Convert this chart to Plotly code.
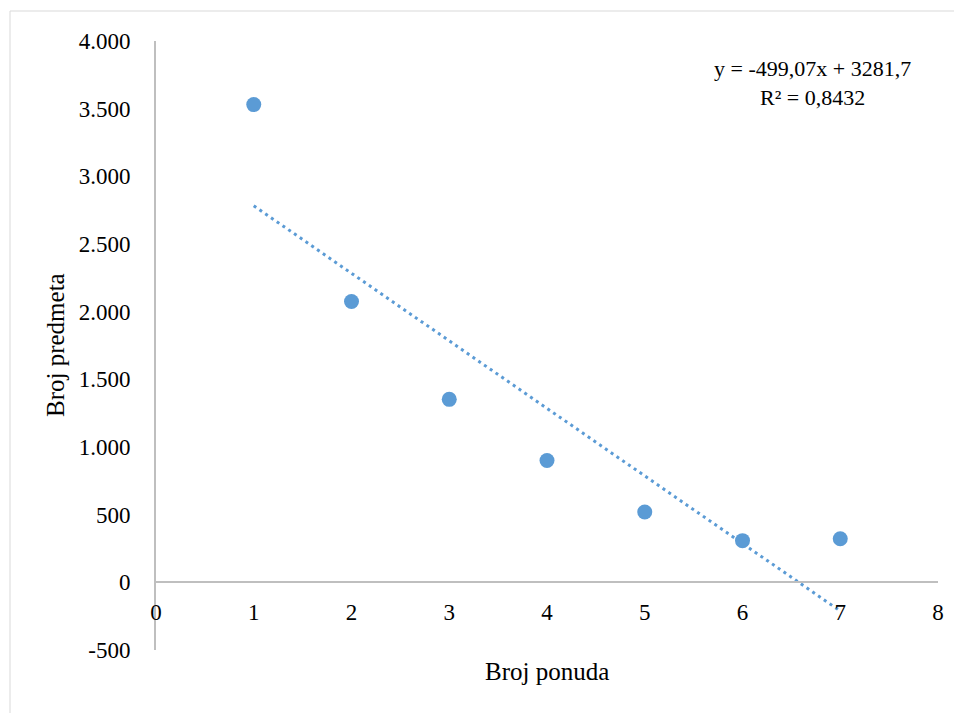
import numpy as np
import plotly.graph_objects as go

# Data
broj_ponuda = [1, 2, 3, 4, 5, 6, 7]
broj_predmeta = [3530, 2075, 1352, 900, 520, 308, 322]
trend_slope = -499.07
trend_intercept = 3281.7
r_squared = 0.8432
x_ticks = [0, 1, 2, 3, 4, 5, 6, 7, 8]
y_ticks = [-500, 0, 500, 1000, 1500, 2000, 2500, 3000, 3500, 4000]
y_tick_labels = ["-500", "0", "500", "1.000", "1.500", "2.000", "2.500", "3.000", "3.500", "4.000"]

color = "#5b9bd5"
font_family = "Liberation Serif"

trend_x = [min(broj_ponuda), max(broj_ponuda)]
trend_y = [trend_slope * v + trend_intercept for v in trend_x]

fig = go.Figure()
fig.add_trace(go.Scatter(
    x=trend_x, y=trend_y, mode="lines",
    line=dict(color=color, width=3, dash="3px,4px"),
    hoverinfo="skip", showlegend=False,
))
fig.add_trace(go.Scatter(
    x=broj_ponuda, y=broj_predmeta, mode="markers",
    marker=dict(color=color, size=15, line=dict(width=0)),
    showlegend=False,
))

# page body has an 8px margin; figure coordinates are offset by it
OFF = 8
W, H = 962 - OFF, 713 - OFF
L, R, T, B = 156 - OFF, 938 - OFF, 41 - OFF, 650 - OFF
pw, ph = R - L, B - T

def px_x(p):
    return (p - OFF - L) / pw

def px_y(p):
    return (B - (p - OFF)) / ph

fig.update_layout(
    width=W, height=H,
    margin=dict(l=L, r=W - R, t=T, b=H - B, pad=0),
    paper_bgcolor="white", plot_bgcolor="white",
    font=dict(family=font_family, color="#000000", size=23),
    xaxis=dict(
        range=[0, 8], tickvals=x_ticks, ticktext=[str(v) for v in x_ticks],
        showgrid=False, zeroline=False, showline=True, linecolor="#bfbfbf", linewidth=2,
        anchor="free", position=500 / 4500,
        ticks="outside", ticklen=9, tickcolor="rgba(0,0,0,0)",
        tickfont=dict(size=23, family=font_family, color="#000"),
    ),
    yaxis=dict(
        range=[-500, 4000], tickvals=y_ticks, ticktext=y_tick_labels,
        showgrid=False, zeroline=False, showline=True, linecolor="#bfbfbf", linewidth=2,
        ticks="outside", ticklen=19, tickcolor="rgba(0,0,0,0)",
        tickfont=dict(size=23, family=font_family, color="#000"),
    ),
    shapes=[dict(
        type="rect", xref="paper", yref="paper",
        x0=px_x(10), x1=px_x(975), y0=px_y(725), y1=px_y(11),
        line=dict(color="#d9d9d9", width=1), fillcolor="rgba(0,0,0,0)", layer="below",
    )],
    annotations=[
        dict(text="Broj ponuda", xref="paper", yref="paper",
             x=px_x(547), y=px_y(671), xanchor="center", yanchor="middle",
             showarrow=False, font=dict(size=25, family=font_family, color="#000")),
        dict(text="Broj predmeta", xref="paper", yref="paper",
             x=px_x(56), y=px_y(345), xanchor="center", yanchor="middle", textangle=-90,
             showarrow=False, font=dict(size=25, family=font_family, color="#000")),
        dict(text=f"y = {trend_slope:.2f}x + {trend_intercept:.1f}".replace(".", ",")
                  + f"<br>R² = {r_squared:.4f}".replace(".", ","),
             xref="paper", yref="paper", x=px_x(812), y=px_y(83),
             xanchor="center", yanchor="middle", align="center",
             showarrow=False, font=dict(size=22, family=font_family, color="#000")),
    ],
)

fig.write_html("out.html")
